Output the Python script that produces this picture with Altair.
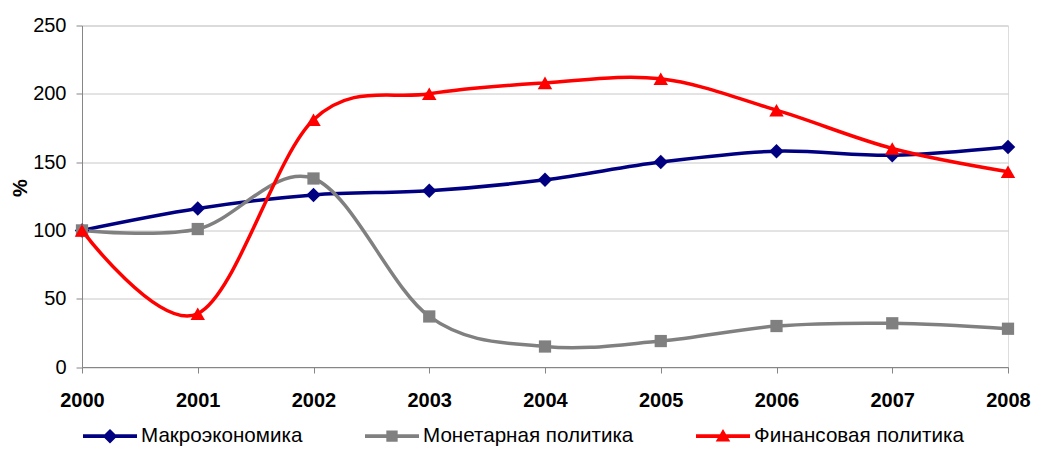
import altair as alt
import pandas as pd

years = [2000, 2001, 2002, 2003, 2004, 2005, 2006, 2007, 2008]
series_names = ["Макроэкономика", "Монетарная политика", "Финансовая политика"]
macro = [100, 116, 126, 129, 137, 150, 158, 155, 161]
monetary = [100, 101, 138, 37, 15, 19, 30, 32, 28]
fiscal = [100, 39, 181, 200, 208, 211, 188, 160, 143]
colors = ["#000080", "#808080", "#FF0000"]
shapes = ["diamond", "square", "triangle-up"]
marker_sizes = [210, 150, 210]
y_ticks = [0, 50, 100, 150, 200, 250]

rows = []
for name, vals in zip(series_names, [macro, monetary, fiscal]):
    for yr, v in zip(years, vals):
        rows.append({"year": yr, "value": v, "series": name})
df = pd.DataFrame(rows)

# legend symbols: a short thick line with the series marker on it (unit coords)
bar = "M-1,-0.07H1V0.07H-1Z"
legend_paths = [
    bar + "M0,-0.27L0.27,0L0,0.27L-0.27,0Z",
    bar + "M-0.21,-0.21H0.21V0.21H-0.21Z",
    bar + "M0,-0.27L0.27,0.2H-0.27Z",
]

FONT = "Liberation Sans"

x = alt.X(
    "year:Q",
    scale=alt.Scale(domain=[2000, 2008], nice=False, zero=False),
    axis=alt.Axis(
        values=years, format="d", title=None, grid=False,
        labelFont=FONT, labelFontSize=20, labelFontWeight="bold", labelColor="black",
        labelPadding=17, labelFlush=False, labelOverlap=False,
        domainColor="#868686", tickColor="#868686", tickSize=6,
    ),
)
y = alt.Y(
    "value:Q",
    scale=alt.Scale(domain=[0, 250], nice=False),
    axis=alt.Axis(
        values=y_ticks, title="%", grid=True, gridColor="#c8c8c8",
        labelFont=FONT, labelFontSize=20, labelColor="black", labelPadding=10,
        domainColor="#868686", tickColor="#868686", tickSize=6,
        titleFont=FONT, titleFontSize=20, titleFontWeight="bold", titleColor="black",
        titleAngle=270, titleX=-62, titleY=162, titleAlign="center", titleBaseline="middle",
    ),
)
color_scale = alt.Scale(domain=series_names, range=colors)
legend = alt.Legend(
    title=None, orient="none", direction="horizontal",
    legendX=1, legendY=383.5,
    symbolSize=2916, symbolStrokeWidth=0, symbolOpacity=1,
    labelFont=FONT, labelFontSize=20.6, labelColor="black", labelOffset=4,
    labelLimit=400, columnPadding=62,
)
color = alt.Color("series:N", scale=color_scale, legend=legend)

lines = alt.Chart(df).mark_line(interpolate="cardinal", strokeWidth=3.5).encode(
    x=x, y=y, color=color
)

marker_layers = []
for name, shp, sz in zip(series_names, shapes, marker_sizes):
    marker_layers.append(
        alt.Chart(df).transform_filter(alt.datum.series == name)
        .mark_point(filled=True, opacity=1, size=sz, shape=shp)
        .encode(x=x, y=y, color=color)
    )

legend_layer = alt.Chart(df).transform_filter("false").mark_point(
    filled=True, opacity=1, size=2916
).encode(
    x=x, y=y,
    color=color,
    shape=alt.Shape("series:N", scale=alt.Scale(domain=series_names, range=legend_paths), legend=legend),
)

chart = alt.layer(legend_layer, lines, *marker_layers).properties(
    width=926, height=341.5,
    autosize=alt.AutoSizeParams(type="none"),
    padding={"left": 74, "top": 17.5, "right": 23, "bottom": 80},
).configure_view(stroke=None).configure(background="white")

chart.save("out.html", embed_options={"renderer": "svg", "actions": False})
